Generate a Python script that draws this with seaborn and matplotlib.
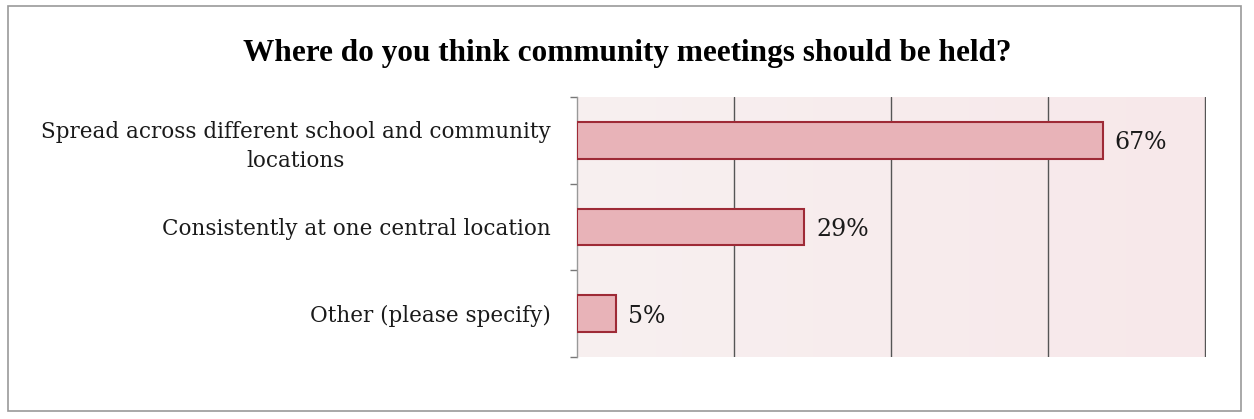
import matplotlib
matplotlib.use("Agg")
import matplotlib.pyplot as plt
import seaborn as sns
import pandas as pd
import numpy as np
from matplotlib.patches import Rectangle

categories = ["Spread across different school and community\nlocations",
              "Consistently at one central location",
              "Other (please specify)"]
values = [0.67, 0.29, 0.05]
value_labels = ["67%", "29%", "5%"]
title = "Where do you think community meetings should be held?"

sns.set_theme(style="white")
plt.rcParams['font.family'] = ['DejaVu Serif', 'Liberation Serif']

df = pd.DataFrame({"cat": categories, "val": values})

fig = plt.figure(figsize=(12.54, 4.19), dpi=100)
fig.patch.set_facecolor("white")
ax = fig.add_axes([0.46, 0.148, 0.5017, 0.6205])

# light pink background gradient
grad = np.linspace(0, 1, 256).reshape(1, -1)
ax.imshow(grad, extent=[0, 0.8, 2.5, -0.5], aspect="auto",
          cmap=matplotlib.colors.LinearSegmentedColormap.from_list("bg", ["#f8f0f0", "#f7e8ea"]),
          zorder=0)

sns.barplot(data=df, x="val", y="cat", orient="h", ax=ax, width=0.42,
            color="#e8b3b8", edgecolor="#9e2a36", linewidth=1.5, saturation=1, zorder=3)

ax.set_xlim(0, 0.8015)
ax.set_ylim(2.5, -0.5)
ax.set_xticks([0.2, 0.4, 0.6, 0.8])
ax.set_xticklabels([])
ax.tick_params(axis="x", length=0)
ax.grid(axis="x", color="#555555", linewidth=1.0, zorder=1)
ax.set_axisbelow(True)
ax.set_xlabel("")
ax.set_ylabel("")

ax.set_yticks([0, 1, 2])
ax.set_yticklabels(categories, fontsize=15.5, color="#1a1a1a", ha="right",
                   multialignment="center", va="center_baseline", linespacing=1.4)
ax.tick_params(axis="y", length=0, pad=19)
# minor ticks at category boundaries
ax.set_yticks([-0.5, 0.5, 1.5, 2.5], minor=True)
ax.tick_params(axis="y", which="minor", length=5, width=1, color="#777777", direction="out", left=True)

for s in ["top", "right", "bottom"]:
    ax.spines[s].set_visible(False)
ax.spines["left"].set_color("#999999")
ax.spines["left"].set_linewidth(1)

for i, (v, lab) in enumerate(zip(values, value_labels)):
    ax.text(v + 0.015, i, lab, va="center_baseline", ha="left", fontsize=17,
            color="#1a1a1a", zorder=4)

fig.text(0.5, 0.872, title, ha="center", va="center", fontsize=22.5,
         fontweight="bold", color="black", family=["Liberation Serif", "DejaVu Serif"])

# outer border
fig.add_artist(Rectangle((0.006, 0.02), 0.984, 0.965, transform=fig.transFigure,
                         fill=False, edgecolor="#999999", linewidth=1.2))

fig.savefig("out.png", dpi=100)
